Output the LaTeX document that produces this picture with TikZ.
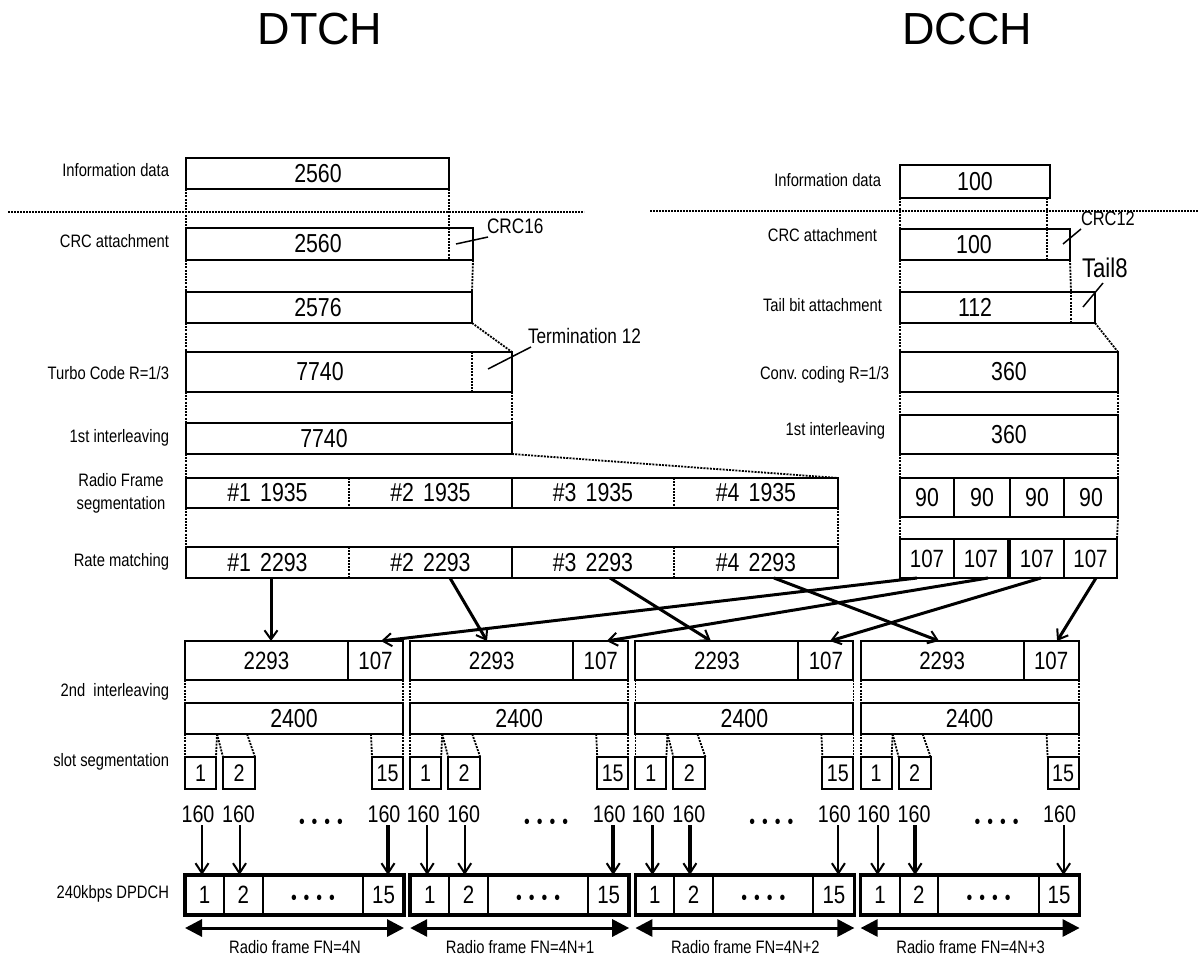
\documentclass[tikz,border=0pt]{standalone}
\usepackage{fontspec}
\setmainfont{Liberation Sans}[FakeStretch=0.82]
\newfontfamily\ttlfont{Liberation Sans}
\usetikzlibrary{arrows.meta,calc}
\newcommand\fsz[1]{\fontsize{#1}{#1}\selectfont}
\newcommand\bx[7][]{\node[box,minimum width={(#5)-(#3)},minimum height={(#6)-(#4)},#1] (#2) at (#3,#4) {#7};}
\newcommand\dts{•\hspace{7pt}•\hspace{7pt}•\hspace{7pt}•}
\begin{document}
\begin{tikzpicture}[x=1pt,y=-1pt,
 box/.style={draw,line width=2pt,inner sep=0pt,outer sep=0pt,anchor=north west,font=\fsz{26}},
 lab/.style={font=\fsz{18},inner sep=0pt,outer sep=0pt},
 ann/.style={font=\fsz{21},inner sep=0pt,outer sep=0pt},
 num/.style={font=\fsz{26},inner sep=0pt,outer sep=0pt},
 ttl/.style={font=\ttlfont\fsz{45},inner sep=0pt,outer sep=0pt,anchor=base},
 conn/.style={line width=1.8pt,dash pattern=on 2pt off 1.2pt},
 sepline/.style={line width=1.5pt,dash pattern=on 2pt off 1pt},
 leader/.style={line width=1.5pt},
 frame/.style={line width=2pt},
 bigarr/.style={line width=3pt,-{Straight Barb[length=9pt,width=13pt,line width=2pt]}},
 slotarr/.style={-{Straight Barb[length=10pt,width=13pt,line width=2pt]}},
 dbl/.style={line width=3pt,{Triangle[length=17pt,width=17pt]}-{Triangle[length=17pt,width=17pt]}}
]
\fill[white] (0,0) rectangle (1198,960);
\useasboundingbox (0,0) rectangle (1198,960);

% titles
\node[ttl] (dtch) at (320,45) {DTCH};
\node[ttl] (dcch) at (967,45) {DCCH};

% separators
\coordinate (sepA1) at (8,212); \coordinate (sepA2) at (584,212);
\coordinate (sepB1) at (650,211); \coordinate (sepB2) at (1198,211);
\draw[sepline] (sepA1) -- (sepA2);
\draw[sepline] (sepB1) -- (sepB2);

% left labels
\node[lab,anchor=base east] (lInfo1) at (169,176) {Information data};
\node[lab,anchor=base east] (lCrc1) at (169,247) {CRC attachment};
\node[lab,anchor=base east] (lTurbo) at (169,379) {Turbo Code R=1/3};
\node[lab,anchor=base east] (lIl1) at (169,442) {1st interleaving};
\node[lab,anchor=base] (lRf1) at (121,486.7) {Radio Frame};
\node[lab,anchor=base] (lRf2) at (121,509) {segmentation};
\node[lab,anchor=base east] (lRm) at (169,566.7) {Rate matching};
\node[lab,anchor=base east] (lIl2) at (169,696.7) {2nd\ \ interleaving};
\node[lab,anchor=base east] (lSlot) at (169,766.7) {slot segmentation};
\node[lab,anchor=base east] (lDp) at (169,898) {240kbps DPDCH};

% right labels
\node[lab,anchor=base east] (rInfo) at (881,186.7) {Information data};
\node[lab,anchor=base east] (rCrc) at (877,241.7) {CRC attachment};
\node[lab,anchor=base east] (rTail) at (882,311.7) {Tail bit attachment};
\node[lab,anchor=base east] (rConv) at (889,379) {Conv.\ coding R=1/3};
\node[lab,anchor=base east] (rIl) at (885,435) {1st interleaving};

% ---------- DTCH column ----------
\bx{info1}{186}{158}{449}{189}{}
\node[num] (info1t) at (318,173.5) {2560};
\bx[draw=none]{crc1a}{186}{228}{449}{260}{}
\bx[draw=none]{crc1b}{449}{228}{473}{260}{}
\draw[frame] (crc1a.north west) rectangle (crc1b.south east);
\draw[conn] (crc1a.north east) -- (crc1a.south east);
\node[num] (crc1t) at (318,244) {2560};
\bx{b2576}{186}{292}{472}{323}{}
\node[num] (b2576t) at (318,307.5) {2576};
\bx[draw=none]{tc1a}{186}{352}{472}{392}{}
\bx[draw=none]{tc1b}{472}{352}{512}{392}{}
\draw[frame] (tc1a.north west) rectangle (tc1b.south east);
\draw[conn] (tc1a.north east) -- (tc1a.south east);
\node[num] (tc1t) at (320,372) {7740};
\bx{il1}{186}{423}{512}{454}{}
\node[num] (il1t) at (324,438.5) {7740};

\bx[draw=none,font=\fsz{26}]{sg1}{186}{478}{349}{508}{\#1\hspace{0.35em}1935}
\bx[draw=none,font=\fsz{26}]{sg2}{349}{478}{512}{508}{\#2\hspace{0.35em}1935}
\bx[draw=none,font=\fsz{26}]{sg3}{512}{478}{674}{508}{\#3\hspace{0.35em}1935}
\bx[draw=none,font=\fsz{26}]{sg4}{674}{478}{838}{508}{\#4\hspace{0.35em}1935}
\draw[frame] (sg1.north west) rectangle (sg4.south east);
\draw[frame] (sg2.north east) -- (sg2.south east);
\draw[conn] (sg1.north east) -- (sg1.south east);
\draw[conn] (sg3.north east) -- (sg3.south east);

\bx[draw=none,font=\fsz{26}]{rm1}{186}{547}{349}{578}{\#1\hspace{0.35em}2293}
\bx[draw=none,font=\fsz{26}]{rm2}{349}{547}{512}{578}{\#2\hspace{0.35em}2293}
\bx[draw=none,font=\fsz{26}]{rm3}{512}{547}{674}{578}{\#3\hspace{0.35em}2293}
\bx[draw=none,font=\fsz{26}]{rm4}{674}{547}{838}{578}{\#4\hspace{0.35em}2293}
\draw[frame] (rm1.north west) rectangle (rm4.south east);
\draw[frame] (rm2.north east) -- (rm2.south east);
\draw[conn] (rm1.north east) -- (rm1.south east);
\draw[conn] (rm3.north east) -- (rm3.south east);

\draw[conn] (info1.south west) -- (crc1a.north west);
\draw[conn] (info1.south east) -- (crc1a.north east);
\draw[conn] (crc1a.south west) -- (b2576.north west);
\draw[conn] (crc1b.south east) -- (b2576.north east);
\draw[conn] (b2576.south west) -- (tc1a.north west);
\draw[conn] (b2576.south east) -- (tc1b.north east);
\draw[conn] (tc1a.south west) -- (il1.north west);
\draw[conn] (tc1b.south east) -- (il1.north east);
\draw[conn] (il1.south west) -- (sg1.north west);
\draw[conn] (il1.south east) -- (sg4.north east);
\draw[conn] (sg1.south west) -- (rm1.north west);
\draw[conn] (sg4.south east) -- (rm4.north east);

% annotations DTCH
\node[ann,anchor=base west] (crc16) at (487,233) {CRC16};
\coordinate (crc16p) at (456,244);
\draw[leader] (crc16p) -- ([shift={(1pt,-4pt)}]crc16.base west);
\node[ann,anchor=base west] (term) at (528,343) {Termination 12};
\coordinate (termp) at (488,369);
\draw[leader] (termp) -- ([shift={(3pt,-4pt)}]term.base west);

% ---------- DCCH column ----------
\bx{info2}{900}{165}{1050}{198}{100}
\bx[draw=none]{crc2a}{900}{229}{1047}{260}{}
\bx[draw=none]{crc2b}{1047}{229}{1070}{260}{}
\draw[frame] (crc2a.north west) rectangle (crc2b.south east);
\draw[conn] (crc2a.north east) -- (crc2a.south east);
\node[num] (crc2t) at (974,244.5) {100};
\bx[draw=none]{tl2a}{900}{292}{1071}{323}{}
\bx[draw=none]{tl2b}{1071}{292}{1095}{323}{}
\draw[frame] (tl2a.north west) rectangle (tl2b.south east);
\draw[conn] (tl2a.north east) -- (tl2a.south east);
\node[num] (tl2t) at (975,307.5) {112};
\bx{cv2}{900}{352}{1118}{392}{360}
\bx{il2}{900}{415}{1118}{454}{360}
\bx{n1}{900}{478}{954}{517}{90}
\bx{n2}{954}{478}{1010}{517}{90}
\bx{n3}{1010}{478}{1064}{517}{90}
\bx{n4}{1064}{478}{1118}{517}{90}
\bx[font=\fsz{25}]{q1}{900}{539}{954}{578}{107}
\bx[font=\fsz{25}]{q2}{954}{539}{1008}{578}{107}
\bx[font=\fsz{25}]{q3}{1010}{539}{1064}{578}{107}
\bx[font=\fsz{25}]{q4}{1064}{539}{1117}{578}{107}

\draw[conn] (info2.south west) -- (crc2a.north west);
\draw[conn] ([xshift=-3pt]info2.south east) -- (crc2a.north east);
\draw[conn] (crc2a.south west) -- (tl2a.north west);
\draw[conn] (crc2b.south east) -- (tl2a.north east);
\draw[conn] (tl2a.south west) -- (cv2.north west);
\draw[conn] (tl2b.south east) -- (cv2.north east);
\draw[conn] (cv2.south west) -- (il2.north west);
\draw[conn] (cv2.south east) -- (il2.north east);
\draw[conn] (il2.south west) -- (n1.north west);
\draw[conn] (il2.south east) -- (n4.north east);
\draw[conn] (n1.south west) -- (q1.north west);
\draw[conn] (n4.south east) -- (q4.north east);

\node[ann,font=\fsz{20},anchor=base west] (crc12) at (1081,225) {CRC12};
\coordinate (crc12p) at (1063,244);
\draw[leader] (crc12p) -- ([shift={(0pt,-4pt)}]crc12.base west);
\node[ann,font=\fsz{27},anchor=base west] (tail8) at (1082,277) {Tail8};
\coordinate (tail8p) at (1083,307);
\draw[leader] (tail8p) -- ([shift={(21pt,-6pt)}]tail8.base west);

% ---------- radio frames ----------
\foreach \i/\lab/\wa/\wb/\wc in {0/4N/2/2/3.5,1/4N+1/2/2/3.5,2/4N+2/3.5/3.5/2,3/4N+3/2/3.5/2}{
 \pgfmathsetmacro\s{185+225.2*\i}
 \bx[font=\fsz{25}]{fa\i}{\s}{641}{\s+163}{680}{2293}
 \bx[font=\fsz{25}]{fb\i}{\s+163}{641}{\s+218}{680}{107}
 \bx[font=\fsz{26}]{fc\i}{\s}{703}{\s+218}{734}{2400}
 \draw[conn] (fa\i.south west) -- (fc\i.north west);
 \draw[conn] (fb\i.south east) -- (fc\i.north east);
 \bx[font=\fsz{24}]{sa\i}{\s}{757}{\s+31}{789}{1}
 \bx[font=\fsz{24}]{sb\i}{\s+38}{757}{\s+70}{789}{2}
 \bx[font=\fsz{24}]{sc\i}{\s+187}{757}{\s+218}{789}{15}
 \draw[conn] (fc\i.south west) -- (sa\i.north west);
 \draw[conn] ([xshift=32pt]fc\i.south west) -- (sa\i.north east);
 \draw[conn] ([xshift=32pt]fc\i.south west) -- (sb\i.north west);
 \draw[conn] ([xshift=62pt]fc\i.south west) -- (sb\i.north east);
 \draw[conn] ([xshift=186pt]fc\i.south west) -- (sc\i.north west);
 \draw[conn] (fc\i.south east) -- (sc\i.north east);
 \node[font=\fsz{24},anchor=base,inner sep=0pt] (la\i) at (\s+13,822) {160};
 \node[font=\fsz{24},anchor=base,inner sep=0pt] (lb\i) at (\s+53.5,822) {160};
 \node[font=\fsz{20},anchor=base,inner sep=0pt] (ld\i) at (\s+136,828) {\dts};
 \node[font=\fsz{24},anchor=base,inner sep=0pt] (lc\i) at (\s+199,822) {160};
 \bx[font=\fsz{25}]{ca\i}{\s}{875}{\s+39}{915}{1}
 \bx[font=\fsz{25}]{cb\i}{\s+39}{875}{\s+77.5}{915}{2}
 \bx[font=\fsz{25}]{cc\i}{\s+178}{875}{\s+219}{915}{15}
 \bx{cd\i}{\s+77.5}{875}{\s+178}{915}{}
 \node[font=\fsz{20},anchor=base,inner sep=0pt] (cdt\i) at (\s+128,904) {\dts};
 \bx[line width=3.5pt]{d\i}{\s}{875}{\s+219}{915}{}
 \coordinate (pa\i) at (\s+17,825);
 \coordinate (pb\i) at (\s+54.5,825);
 \coordinate (pc\i) at (\s+203,825);
 \draw[slotarr,line width=\wa pt] (pa\i) -- (pa\i |- ca\i.north);
 \draw[slotarr,line width=\wb pt] (pb\i) -- (pb\i |- cb\i.north);
 \draw[slotarr,line width=\wc pt] (pc\i) -- (pc\i |- cc\i.north);
 \draw[dbl] ([yshift=-13pt]d\i.south west) -- ([yshift=-13pt]d\i.south east);
 \node[lab,anchor=base] (rf\i) at (\s+110,953) {Radio frame FN=\lab};
}

% mapping arrows
\draw[bigarr] ([xshift=3.5pt]rm1.south) -- ([xshift=4.5pt]fa0.north);
\draw[bigarr] ([xshift=19.5pt]rm2.south) -- ([xshift=-4.7pt]fa1.north);
\draw[bigarr] ([xshift=17pt]rm3.south) -- ([xshift=-6pt]fa2.north);
\draw[bigarr] ([xshift=18pt]rm4.south) -- ([xshift=-3pt]fa3.north);
\draw[bigarr] ([xshift=-10pt]q1.south) -- ([xshift=5.5pt]fb0.north);
\draw[bigarr] ([xshift=7pt]q2.south) -- ([xshift=6pt]fb1.north);
\draw[bigarr] ([xshift=4pt]q3.south) -- ([xshift=4pt]fb2.north);
\draw[bigarr] ([xshift=5.5pt]q4.south) -- ([xshift=6pt]fb3.north);
\end{tikzpicture}
\end{document}
